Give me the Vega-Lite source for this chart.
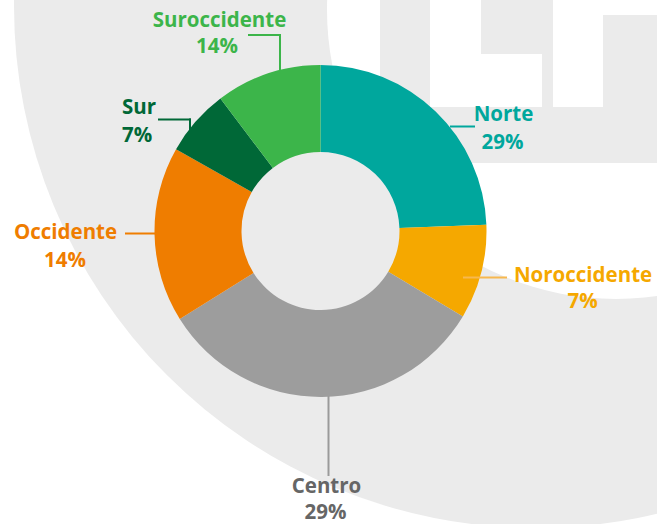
{
  "$schema": "https://vega.github.io/schema/vega-lite/v6.json",
  "width": 657,
  "height": 524,
  "autosize": "none",
  "padding": 0,
  "background": "white",
  "config": {"view": {"stroke": null}, "text": {"font": "Open Sans", "fontWeight": "bold", "fontSize": 20.5, "baseline": "alphabetic"}},
  "data": {"values": [
    {"region": "Norte", "pct": "29%", "value": 24.4, "orden": 1},
    {"region": "Noroccidente", "pct": "7%", "value": 9.2, "orden": 2},
    {"region": "Centro", "pct": "29%", "value": 32.5, "orden": 3},
    {"region": "Occidente", "pct": "14%", "value": 17.1, "orden": 4},
    {"region": "Sur", "pct": "7%", "value": 6.5, "orden": 5},
    {"region": "Suroccidente", "pct": "14%", "value": 10.3, "orden": 6}
  ]},
  "layer": [
    {
      "data": {"values": [{}]},
      "mark": {"type": "arc", "radius": 522, "theta": 0, "theta2": 6.2832, "color": "#ebebeb"},
      "encoding": {
        "x": {"datum": 536, "scale": {"domain": [0, 657], "nice": false, "zero": false}, "axis": null},
        "y": {"datum": 6, "scale": {"domain": [0, 524], "nice": false, "zero": false, "reverse": true}, "axis": null}
      }
    },
    {
      "data": {"values": [{}]},
      "mark": {"type": "arc", "radius": 289, "theta": 0, "theta2": 6.2832, "color": "#ffffff"},
      "encoding": {
        "x": {"datum": 616, "scale": {"domain": [0, 657], "nice": false, "zero": false}, "axis": null},
        "y": {"datum": 10, "scale": {"domain": [0, 524], "nice": false, "zero": false, "reverse": true}, "axis": null}
      }
    },
    {
      "data": {"values": [{}]},
      "mark": {"type": "rect", "color": "#ebebeb"},
      "encoding": {
        "x": {"datum": 380, "scale": {"domain": [0, 657], "nice": false, "zero": false}, "axis": null},
        "x2": {"datum": 430},
        "y": {"datum": 0, "scale": {"domain": [0, 524], "nice": false, "zero": false, "reverse": true}, "axis": null},
        "y2": {"datum": 163}
      }
    },
    {
      "data": {"values": [{}]},
      "mark": {"type": "rect", "color": "#ebebeb"},
      "encoding": {
        "x": {"datum": 430, "scale": {"domain": [0, 657], "nice": false, "zero": false}, "axis": null},
        "x2": {"datum": 657},
        "y": {"datum": 107, "scale": {"domain": [0, 524], "nice": false, "zero": false, "reverse": true}, "axis": null},
        "y2": {"datum": 163}
      }
    },
    {
      "data": {"values": [{}]},
      "mark": {"type": "rect", "color": "#ebebeb"},
      "encoding": {
        "x": {"datum": 481, "scale": {"domain": [0, 657], "nice": false, "zero": false}, "axis": null},
        "x2": {"datum": 553},
        "y": {"datum": 0, "scale": {"domain": [0, 524], "nice": false, "zero": false, "reverse": true}, "axis": null},
        "y2": {"datum": 54}
      }
    },
    {
      "data": {"values": [{}]},
      "mark": {"type": "rect", "color": "#ebebeb"},
      "encoding": {
        "x": {"datum": 542, "scale": {"domain": [0, 657], "nice": false, "zero": false}, "axis": null},
        "x2": {"datum": 553},
        "y": {"datum": 54, "scale": {"domain": [0, 524], "nice": false, "zero": false, "reverse": true}, "axis": null},
        "y2": {"datum": 107}
      }
    },
    {
      "data": {"values": [{}]},
      "mark": {"type": "rect", "color": "#ebebeb"},
      "encoding": {
        "x": {"datum": 603, "scale": {"domain": [0, 657], "nice": false, "zero": false}, "axis": null},
        "x2": {"datum": 657},
        "y": {"datum": 15, "scale": {"domain": [0, 524], "nice": false, "zero": false, "reverse": true}, "axis": null},
        "y2": {"datum": 107}
      }
    },
    {
      "mark": {"type": "arc", "radius": 166, "innerRadius": 79},
      "encoding": {
        "theta": {"field": "value", "type": "quantitative", "stack": true},
        "order": {"field": "orden", "type": "quantitative"},
        "color": {
          "field": "region", "type": "nominal", "legend": null,
          "scale": {
            "domain": ["Norte", "Noroccidente", "Centro", "Occidente", "Sur", "Suroccidente"],
            "range": ["#00a79d", "#f5a800", "#9d9d9d", "#ef7d00", "#006837", "#3cb54a"]
          }
        },
        "x": {"datum": 320.5, "scale": {"domain": [0, 657], "nice": false, "zero": false}, "axis": null},
        "y": {"datum": 231, "scale": {"domain": [0, 524], "nice": false, "zero": false, "reverse": true}, "axis": null}
      }
    },
    {
      "transform": [{"filter": "datum.region === 'Norte'"}],
      "layer": [
        {
          "mark": {"type": "rule", "color": "#00a79d", "strokeWidth": 2},
          "encoding": {
            "x": {"datum": 450, "scale": {"domain": [0, 657], "nice": false, "zero": false}, "axis": null},
            "x2": {"datum": 475},
            "y": {"datum": 126.5, "scale": {"domain": [0, 524], "nice": false, "zero": false, "reverse": true}, "axis": null}
          }
        },
        {
          "mark": {"type": "text", "color": "#00a79d", "align": "center"},
          "encoding": {
            "x": {"datum": 503.5, "scale": {"domain": [0, 657], "nice": false, "zero": false}, "axis": null},
            "y": {"datum": 121, "scale": {"domain": [0, 524], "nice": false, "zero": false, "reverse": true}, "axis": null},
            "text": {"field": "region"}
          }
        },
        {
          "mark": {"type": "text", "color": "#00a79d", "align": "center"},
          "encoding": {
            "x": {"datum": 502.5, "scale": {"domain": [0, 657], "nice": false, "zero": false}, "axis": null},
            "y": {"datum": 149, "scale": {"domain": [0, 524], "nice": false, "zero": false, "reverse": true}, "axis": null},
            "text": {"field": "pct"}
          }
        }
      ]
    },
    {
      "transform": [{"filter": "datum.region === 'Noroccidente'"}],
      "layer": [
        {
          "mark": {"type": "rule", "color": "#f7b84f", "strokeWidth": 2},
          "encoding": {
            "x": {"datum": 463, "scale": {"domain": [0, 657], "nice": false, "zero": false}, "axis": null},
            "x2": {"datum": 507},
            "y": {"datum": 277.5, "scale": {"domain": [0, 524], "nice": false, "zero": false, "reverse": true}, "axis": null}
          }
        },
        {
          "mark": {"type": "text", "color": "#f5a800", "align": "center"},
          "encoding": {
            "x": {"datum": 583, "scale": {"domain": [0, 657], "nice": false, "zero": false}, "axis": null},
            "y": {"datum": 282, "scale": {"domain": [0, 524], "nice": false, "zero": false, "reverse": true}, "axis": null},
            "text": {"field": "region"}
          }
        },
        {
          "mark": {"type": "text", "color": "#f5a800", "align": "center"},
          "encoding": {
            "x": {"datum": 582.5, "scale": {"domain": [0, 657], "nice": false, "zero": false}, "axis": null},
            "y": {"datum": 308, "scale": {"domain": [0, 524], "nice": false, "zero": false, "reverse": true}, "axis": null},
            "text": {"field": "pct"}
          }
        }
      ]
    },
    {
      "transform": [{"filter": "datum.region === 'Centro'"}],
      "layer": [
        {
          "mark": {"type": "rule", "color": "#9a9a9a", "strokeWidth": 2},
          "encoding": {
            "x": {"datum": 328.5, "scale": {"domain": [0, 657], "nice": false, "zero": false}, "axis": null},
            "y": {"datum": 396, "scale": {"domain": [0, 524], "nice": false, "zero": false, "reverse": true}, "axis": null},
            "y2": {"datum": 476}
          }
        },
        {
          "mark": {"type": "text", "color": "#666666", "align": "center"},
          "encoding": {
            "x": {"datum": 326.5, "scale": {"domain": [0, 657], "nice": false, "zero": false}, "axis": null},
            "y": {"datum": 493, "scale": {"domain": [0, 524], "nice": false, "zero": false, "reverse": true}, "axis": null},
            "text": {"field": "region"}
          }
        },
        {
          "mark": {"type": "text", "color": "#666666", "align": "center"},
          "encoding": {
            "x": {"datum": 325.5, "scale": {"domain": [0, 657], "nice": false, "zero": false}, "axis": null},
            "y": {"datum": 519, "scale": {"domain": [0, 524], "nice": false, "zero": false, "reverse": true}, "axis": null},
            "text": {"field": "pct"}
          }
        }
      ]
    },
    {
      "transform": [{"filter": "datum.region === 'Occidente'"}],
      "layer": [
        {
          "mark": {"type": "rule", "color": "#ef7d00", "strokeWidth": 2},
          "encoding": {
            "x": {"datum": 125, "scale": {"domain": [0, 657], "nice": false, "zero": false}, "axis": null},
            "x2": {"datum": 157},
            "y": {"datum": 233.5, "scale": {"domain": [0, 524], "nice": false, "zero": false, "reverse": true}, "axis": null}
          }
        },
        {
          "mark": {"type": "text", "color": "#ef7d00", "align": "center"},
          "encoding": {
            "x": {"datum": 65.5, "scale": {"domain": [0, 657], "nice": false, "zero": false}, "axis": null},
            "y": {"datum": 239, "scale": {"domain": [0, 524], "nice": false, "zero": false, "reverse": true}, "axis": null},
            "text": {"field": "region"}
          }
        },
        {
          "mark": {"type": "text", "color": "#ef7d00", "align": "center"},
          "encoding": {
            "x": {"datum": 65, "scale": {"domain": [0, 657], "nice": false, "zero": false}, "axis": null},
            "y": {"datum": 267, "scale": {"domain": [0, 524], "nice": false, "zero": false, "reverse": true}, "axis": null},
            "text": {"field": "pct"}
          }
        }
      ]
    },
    {
      "transform": [{"filter": "datum.region === 'Sur'"}],
      "layer": [
        {
          "mark": {"type": "rule", "color": "#006837", "strokeWidth": 2},
          "encoding": {
            "x": {"datum": 158, "scale": {"domain": [0, 657], "nice": false, "zero": false}, "axis": null},
            "x2": {"datum": 191},
            "y": {"datum": 119.5, "scale": {"domain": [0, 524], "nice": false, "zero": false, "reverse": true}, "axis": null}
          }
        },
        {
          "mark": {"type": "rule", "color": "#006837", "strokeWidth": 2},
          "encoding": {
            "x": {"datum": 190, "scale": {"domain": [0, 657], "nice": false, "zero": false}, "axis": null},
            "y": {"datum": 118.5, "scale": {"domain": [0, 524], "nice": false, "zero": false, "reverse": true}, "axis": null},
            "y2": {"datum": 131}
          }
        },
        {
          "mark": {"type": "text", "color": "#006837", "align": "left"},
          "encoding": {
            "x": {"datum": 122, "scale": {"domain": [0, 657], "nice": false, "zero": false}, "axis": null},
            "y": {"datum": 114, "scale": {"domain": [0, 524], "nice": false, "zero": false, "reverse": true}, "axis": null},
            "text": {"field": "region"}
          }
        },
        {
          "mark": {"type": "text", "color": "#006837", "align": "left"},
          "encoding": {
            "x": {"datum": 122, "scale": {"domain": [0, 657], "nice": false, "zero": false}, "axis": null},
            "y": {"datum": 142, "scale": {"domain": [0, 524], "nice": false, "zero": false, "reverse": true}, "axis": null},
            "text": {"field": "pct"}
          }
        }
      ]
    },
    {
      "transform": [{"filter": "datum.region === 'Suroccidente'"}],
      "layer": [
        {
          "mark": {"type": "rule", "color": "#3cb54a", "strokeWidth": 2},
          "encoding": {
            "x": {"datum": 248, "scale": {"domain": [0, 657], "nice": false, "zero": false}, "axis": null},
            "x2": {"datum": 281},
            "y": {"datum": 35, "scale": {"domain": [0, 524], "nice": false, "zero": false, "reverse": true}, "axis": null}
          }
        },
        {
          "mark": {"type": "rule", "color": "#3cb54a", "strokeWidth": 2},
          "encoding": {
            "x": {"datum": 280, "scale": {"domain": [0, 657], "nice": false, "zero": false}, "axis": null},
            "y": {"datum": 34, "scale": {"domain": [0, 524], "nice": false, "zero": false, "reverse": true}, "axis": null},
            "y2": {"datum": 70}
          }
        },
        {
          "mark": {"type": "text", "color": "#3cb54a", "align": "center"},
          "encoding": {
            "x": {"datum": 219.5, "scale": {"domain": [0, 657], "nice": false, "zero": false}, "axis": null},
            "y": {"datum": 27, "scale": {"domain": [0, 524], "nice": false, "zero": false, "reverse": true}, "axis": null},
            "text": {"field": "region"}
          }
        },
        {
          "mark": {"type": "text", "color": "#3cb54a", "align": "center"},
          "encoding": {
            "x": {"datum": 217, "scale": {"domain": [0, 657], "nice": false, "zero": false}, "axis": null},
            "y": {"datum": 53, "scale": {"domain": [0, 524], "nice": false, "zero": false, "reverse": true}, "axis": null},
            "text": {"field": "pct"}
          }
        }
      ]
    }
  ]
}
